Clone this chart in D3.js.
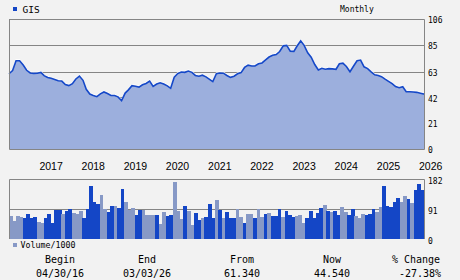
<!DOCTYPE html>
<html>
<head>
<meta charset="utf-8">
<script src="https://cdn.jsdelivr.net/npm/d3@7"></script>
<style>
  body { margin: 0; background: #f2f2f2; }
  svg { display: block; }
  .mono { font-family: "DejaVu Sans Mono", monospace; fill: #000; }
</style>
</head>
<body>
<div id="chart"></div>
<script>
// monthly closes, first = 04/30/16, last = 03/03/26
const symbol = "GIS";
const beginDate = new Date(2016, 3, 30);
const endDate = new Date(2026, 2, 3);
const closes = [
  61.34, 64, 72, 72, 68.5, 64.2, 62, 61.7, 61.8, 62.5,
  59.8, 58.3, 57.7, 56.7, 55.7, 55.4, 52.6, 51.7, 53.3, 57.1,
  59.5, 56, 48.7, 44.8, 43.7, 42.7, 45, 46.5, 45.2, 43.6,
  43.6, 42.5, 39.4, 45.6, 48.2, 51.6, 51.2, 50.5, 52.4, 53.4,
  55.4, 51, 53, 54, 53, 51.5, 49.5, 58.5, 61.5, 62.8,
  62.5, 63.6, 62.5, 60, 59.3, 60.2, 58.8, 56.8, 55, 61.4,
  62, 61.8, 59.9, 58.4, 59.3, 61.3, 62.3, 66.5, 68.4, 67.7,
  67.7, 69.5, 70.2, 72.6, 75, 76.4, 77, 79.5, 84.1, 84.5,
  79.8, 79.6, 84, 88.2, 84.5, 78.5, 74.9, 68.9, 64.4, 65.8,
  65, 65.5, 65.3, 65, 69.5, 70, 67.3, 63, 67.5, 72,
  72.5, 67, 65.6, 62.9, 60.5, 60, 59, 57, 55.2, 53.3,
  50.9, 50, 50.8, 46.7, 46.7, 46.5, 46.2, 45.5, 44.8, 44.54
];
// monthly volume / 1000, one bar per month
const volumes = [
  69.7, 55.5, 69.7, 66.7, 63.6, 75.8, 63.6, 66.7, 51.5, 49.5,
  63.6, 75.8, 48.5, 87.9, 87.9, 75.8, 84.9, 90.9, 78.8, 76.8,
  84.9, 63.6, 90.9, 160.6, 112, 106, 133, 90.9, 81.8, 100,
  100, 93.9, 151.5, 112, 87.9, 93.9, 72.7, 87.9, 87.9, 72.8,
  72.8, 72.8, 72.8, 45.5, 81.9, 69.7, 72.8, 172.9, 84.9, 60.7,
  100, 84.9, 42.5, 78.8, 57.6, 63.7, 66.7, 106, 63.7, 118,
  88, 63.7, 81.9, 63.7, 63.7, 92, 66.7, 48.5, 75.8, 75.8,
  63.7, 92, 66.7, 75.8, 78.8, 69.7, 69.7, 92, 66.7, 84.9,
  72.8, 66.7, 69.7, 72.8, 48.5, 63.7, 84.9, 63.7, 78.8, 94,
  103, 84.9, 81.9, 84.9, 72.8, 97, 81.9, 72.8, 92, 69.7,
  63.7, 75.8, 72.8, 75.8, 92, 81.9, 97, 160.7, 100, 97,
  112, 124, 112, 130, 121, 109, 148.6, 166.8, 148.6
];
// 1 = dark bar, 0 = light bar
const volDark = [
  0,0,0,0,1,1,1,1,0,0, 1,1,1,1,1,0,1,1,0,0,
  0,1,1,1,1,1,0,0,1,1, 0,1,1,0,0,0,1,1,0,0,
  0,0,1,0,0,1,1,0,0,0, 1,0,0,1,1,0,1,1,1,0,
  1,0,1,1,1,0,0,1,0,0, 1,0,0,1,0,1,1,1,0,1,
  1,1,0,0,0,1,1,1,1,1, 0,1,0,1,1,0,0,1,1,0,
  0,0,1,1,1,0,0,1,1,1, 1,1,0,0,1,0,1,1,1
];
const priceTicks = [0, 21, 42, 63, 85, 106];
const volTicks = [0, 91, 182];
const years = [2017, 2018, 2019, 2020, 2021, 2022, 2023, 2024, 2025, 2026];
const footHeads = ["Begin", "End", "From", "Now", "% Change"];
const footValues = ["04/30/16", "03/03/26", "61.340", "44.540", "-27.38%"];

const W = 460, H = 280;
const left = 9, right = 424;
const lineBlue = "#1548c8", areaFill = "#9cafdd", grid = "#858585";

const dates = closes.map((c, i) =>
  i < closes.length - 1 ? new Date(2016, 4 + i, 0) : endDate);
const data = closes.map((c, i) => ({date: dates[i], close: c}));

const svg = d3.select("#chart").append("svg")
    .attr("width", W).attr("height", H);

const x = d3.scaleTime().domain([beginDate, endDate]).range([left, right]);
const y = d3.scaleLinear().domain([0, 106]).range([149, 19]);

// price grid
svg.append("g").selectAll("line").data(priceTicks.filter(t => t > 0))
  .join("line")
    .attr("x1", left).attr("x2", right)
    .attr("y1", d => Math.round(y(d)) + 0.5).attr("y2", d => Math.round(y(d)) + 0.5)
    .attr("stroke", grid);

// area + line
const area = d3.area().x(d => x(d.date)).y0(y(0)).y1(d => y(d.close));
const line = d3.line().x(d => x(d.date)).y(d => y(d.close));
svg.append("path").datum(data).attr("d", area).attr("fill", areaFill);
svg.append("path").datum(data).attr("d", line)
  .attr("fill", "none").attr("stroke", "#ffffff").attr("stroke-width", 1.2)
  .attr("transform", "translate(0,-1)").attr("opacity", 0.8);
svg.append("path").datum(data).attr("d", line)
  .attr("fill", "none").attr("stroke", lineBlue).attr("stroke-width", 1.6);

// frame of price panel
svg.append("path")
  .attr("d", `M${left + 0.5},149.5V19.5H${right + 0.5}V149.5H${left + 0.5}`)
  .attr("fill", "none").attr("stroke", grid);

// right price axis
svg.append("g")
    .attr("transform", `translate(${right},1)`)
    .call(d3.axisRight(y).tickValues(priceTicks).tickSize(0).tickPadding(4).tickFormat(d3.format("d")))
    .call(g => g.select(".domain").remove())
    .selectAll("text").attr("class", "mono").style("font-size", "8px")
    .style("font-family", "DejaVu Sans Mono");

// year labels
svg.append("g")
    .attr("transform", "translate(0,149)")
    .call(d3.axisBottom(x).tickValues(years.map(yr => new Date(yr, 0, 1)))
      .tickSize(0).tickPadding(14).tickFormat(d3.timeFormat("%Y")))
    .call(g => g.select(".domain").remove())
    .selectAll("text")
      .attr("text-anchor", "start").attr("dx", 1.5)
      .style("font-family", "Liberation Sans").style("font-size", "10.5px").style("fill", "#000");

// volume panel
const xb = d3.scaleBand().domain(d3.range(volumes.length)).range([left, right]).padding(0);
const yv = d3.scaleLinear().domain([0, 182]).range([239, 179]);

svg.append("line")
  .attr("x1", left).attr("x2", right)
  .attr("y1", Math.round(yv(91)) + 0.5).attr("y2", Math.round(yv(91)) + 0.5)
  .attr("stroke", grid);

svg.append("g").selectAll("rect").data(volumes)
  .join("rect")
    .attr("x", (d, i) => xb(i))
    .attr("width", xb.bandwidth() + 0.3)
    .attr("y", d => yv(d))
    .attr("height", d => yv(0) - yv(d))
    .attr("fill", (d, i) => volDark[i] ? "#1446c6" : "#8799c6")
    .attr("shape-rendering", "crispEdges");

svg.append("path")
  .attr("d", `M${left + 0.5},239V179.5H${right + 0.5}V239`)
  .attr("fill", "none").attr("stroke", grid);

svg.append("g")
    .attr("transform", `translate(${right},1.5)`)
    .call(d3.axisRight(yv).tickValues(volTicks).tickSize(0).tickPadding(4).tickFormat(d3.format("d")))
    .call(g => g.select(".domain").remove())
    .selectAll("text").style("font-size", "8px")
    .style("font-family", "DejaVu Sans Mono").style("fill", "#000");

// legends
svg.append("rect").attr("x", 13).attr("y", 7).attr("width", 4).attr("height", 4).attr("fill", "#1446c6");
svg.append("text").attr("class", "mono").attr("x", 22.5).attr("y", 12.5)
  .style("font-size", "9.5px").text(symbol);
svg.append("text").attr("class", "mono").attr("x", 340).attr("y", 12)
  .style("font-size", "8px").text("Monthly");
svg.append("rect").attr("x", 13).attr("y", 243).attr("width", 4).attr("height", 4).attr("fill", "#8799c6");
svg.append("text").attr("class", "mono").attr("x", 20.5).attr("y", 248)
  .style("font-size", "8.3px").text("Volume/1000");

// footer
const footX = [60, 147, 242, 332, 416];
const foot = svg.append("g").attr("class", "mono").style("font-size", "10px");
foot.selectAll(".head").data(footHeads).join("text").attr("class", "head mono")
  .attr("x", (d, i) => footX[i]).attr("y", 263).attr("text-anchor", "middle").text(d => d);
foot.selectAll(".val").data(footValues).join("text").attr("class", "val mono")
  .attr("x", (d, i) => footX[i] + (i === 4 ? 4 : 0)).attr("y", 277)
  .attr("text-anchor", "middle").text(d => d);
</script>
</body>
</html>
